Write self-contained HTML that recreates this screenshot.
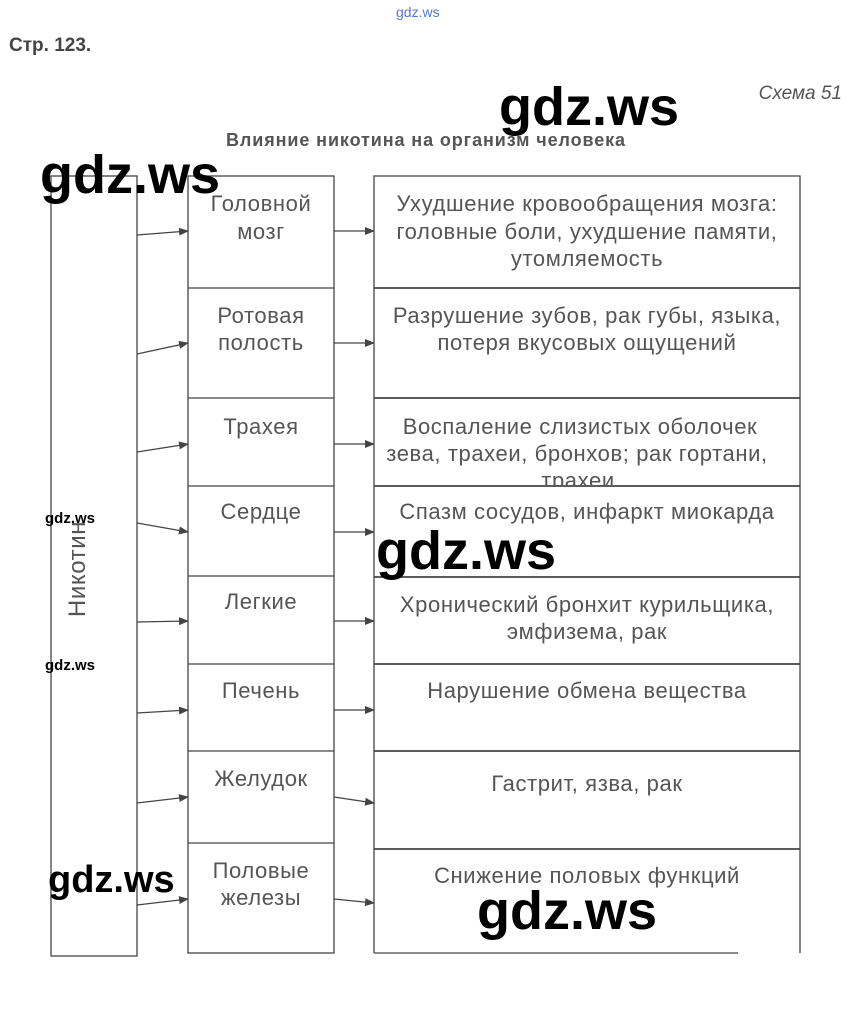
<!DOCTYPE html>
<html><head><meta charset="utf-8"><style>
html,body{margin:0;padding:0;background:#fff;}
svg{display:block;font-family:"Liberation Sans",sans-serif;}
.m{font-size:22px;letter-spacing:0.6px;fill:#555;text-anchor:middle;}
.w{font-family:"Liberation Sans",sans-serif;fill:#000;font-weight:bold;}
</style></head><body>
<svg width="847" height="1021" viewBox="0 0 847 1021" xmlns="http://www.w3.org/2000/svg">
<defs>
<marker id="a" markerWidth="10" markerHeight="8" refX="9" refY="4" orient="auto" markerUnits="userSpaceOnUse"><path d="M0,0L10,4L0,8z" fill="#444"/></marker>
<clipPath id="c3"><rect x="374" y="398" width="426" height="87"/></clipPath>
</defs>
<text x="396" y="17" font-size="14" fill="#5577cc">gdz.ws</text>
<text x="9" y="51" font-size="19" font-weight="bold" fill="#444">Стр. 123.</text>
<text x="842" y="99" font-size="19" font-style="italic" fill="#555" text-anchor="end">Схема 51</text>
<text x="426" y="146" font-size="18" letter-spacing="0.9" font-weight="bold" fill="#555" text-anchor="middle">Влияние никотина на организм человека</text>
<g fill="none" stroke="#444" stroke-width="1.3">
<rect x="51" y="176" width="86" height="780"/>
<rect x="188" y="176" width="146" height="777"/>
<path d="M188 288H334M188 398H334M188 486H334M188 576H334M188 664H334M188 751H334M188 843H334"/>
<path d="M374 953V176H800V953M738 953H374"/>
<path d="M374 288H800M374 398H800M374 486H800M374 577H800M374 664H800M374 751H800M374 849H800" stroke-width="1.8"/>
</g>
<g stroke="#444" stroke-width="1.2" marker-end="url(#a)">
<line x1="137" y1="235" x2="188" y2="231"/><line x1="137" y1="354" x2="188" y2="343"/>
<line x1="137" y1="452" x2="188" y2="444"/><line x1="137" y1="523" x2="188" y2="532"/>
<line x1="137" y1="622" x2="188" y2="621"/><line x1="137" y1="713" x2="188" y2="710"/>
<line x1="137" y1="803" x2="188" y2="797"/><line x1="137" y1="905" x2="188" y2="899"/>
<line x1="334" y1="231" x2="374" y2="231"/><line x1="334" y1="343" x2="374" y2="343"/>
<line x1="334" y1="444" x2="374" y2="444"/><line x1="334" y1="532" x2="374" y2="532"/>
<line x1="334" y1="621" x2="374" y2="621"/><line x1="334" y1="710" x2="374" y2="710"/>
<line x1="334" y1="797" x2="374" y2="803"/><line x1="334" y1="899" x2="374" y2="903"/>
</g>
<text class="m" transform="translate(85,569) rotate(-90)" style="font-size:24px">Никотин</text>
<g class="m">
<text x="261" y="211">Головной</text><text x="261" y="239">мозг</text>
<text x="261" y="323">Ротовая</text><text x="261" y="350">полость</text>
<text x="261" y="434">Трахея</text>
<text x="261" y="519">Сердце</text>
<text x="261" y="609">Легкие</text>
<text x="261" y="698">Печень</text>
<text x="261" y="786">Желудок</text>
<text x="261" y="878">Половые</text><text x="261" y="905">железы</text>
<text x="587" y="211">Ухудшение кровообращения мозга:</text>
<text x="587" y="239">головные боли, ухудшение памяти,</text>
<text x="587" y="266">утомляемость</text>
<text x="587" y="323">Разрушение зубов, рак губы, языка,</text>
<text x="587" y="350">потеря вкусовых ощущений</text>
<g clip-path="url(#c3)"><text x="580" y="434">Воспаление слизистых оболочек</text>
<text x="577" y="461">зева, трахеи, бронхов; рак гортани,</text>
<text x="578" y="488">трахеи</text></g>
<text x="587" y="519">Спазм сосудов, инфаркт миокарда</text>
<text x="587" y="612">Хронический бронхит курильщика,</text>
<text x="587" y="639">эмфизема, рак</text>
<text x="587" y="698">Нарушение обмена вещества</text>
<text x="587" y="791">Гастрит, язва, рак</text>
<text x="587" y="883">Снижение половых функций</text>
</g>
<g class="w">
<text x="40" y="193" font-size="54">gdz.ws</text>
<text x="499" y="125" font-size="54">gdz.ws</text>
<text x="376" y="569" font-size="54">gdz.ws</text>
<text x="477" y="929" font-size="54">gdz.ws</text>
<text x="48" y="892" font-size="38">gdz.ws</text>
<text x="45" y="523" font-size="15">gdz.ws</text>
<text x="45" y="670" font-size="15">gdz.ws</text>
</g>
</svg>
</body></html>
